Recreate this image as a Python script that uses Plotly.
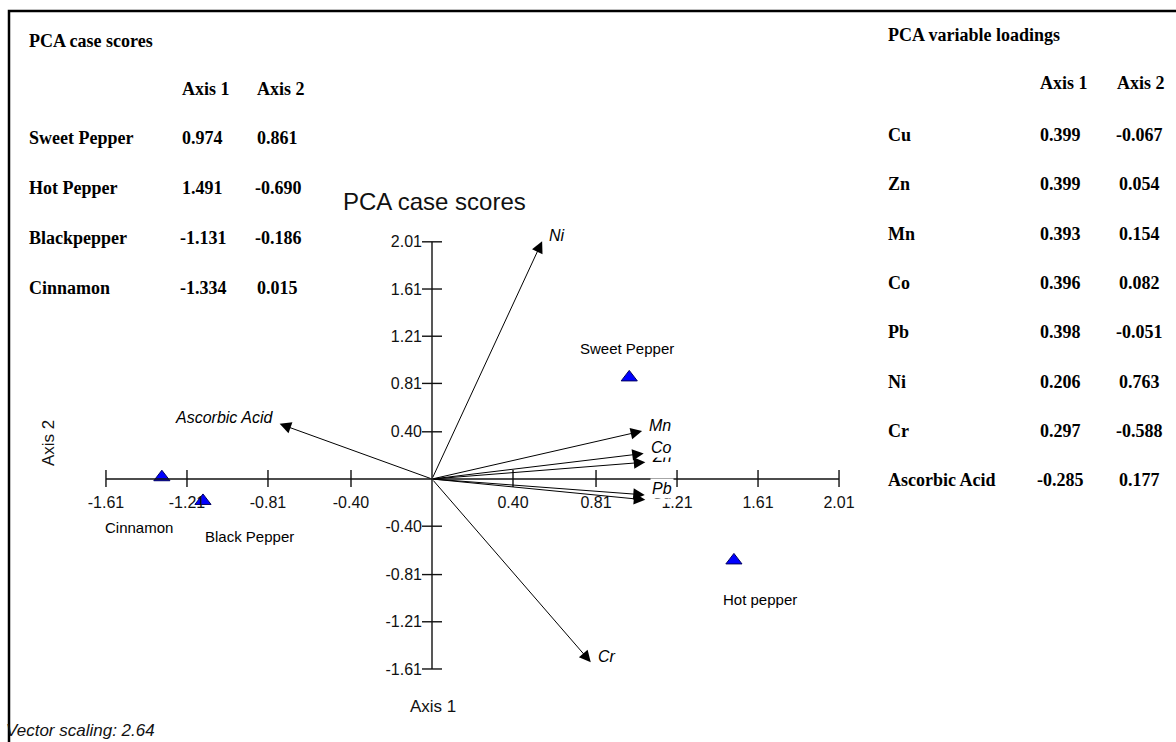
import plotly.graph_objects as go

# ---------------- data ----------------
samples = ["Sweet Pepper", "Hot Pepper", "Blackpepper", "Cinnamon"]
score_axis1 = [0.974, 1.491, -1.131, -1.334]
score_axis2 = [0.861, -0.690, -0.186, 0.015]
plot_labels = ["Sweet Pepper", "Hot pepper", "Black Pepper", "Cinnamon"]

variables = ["Cu", "Zn", "Mn", "Co", "Pb", "Ni", "Cr", "Ascorbic Acid"]
load_axis1 = [0.399, 0.399, 0.393, 0.396, 0.398, 0.206, 0.297, -0.285]
load_axis2 = [-0.067, 0.054, 0.154, 0.082, -0.051, 0.763, -0.588, 0.177]

vector_scaling = 2.64
axis_ticks = [-1.61, -1.21, -0.81, -0.40, 0.40, 0.81, 1.21, 1.61, 2.01]

# ---------------- layout geometry ----------------
W, H = 1176, 742
OX, OY = 432, 479          # pixel position of origin
SX, SY = 202.5, 118.0      # pixels per unit
x_range = [-OX / SX, (W - OX) / SX]
y_range = [(OY - H) / SY, OY / SY]

def px(x):
    return x / W

def py(y):
    return 1 - y / H

SANS = "Liberation Sans, Arial, sans-serif"
SERIF = "Liberation Serif, Times New Roman, serif"

# label offsets (pixels) for sample names
sample_label_shift = [(-2, 29), (26, -39), (47, -36), (-23, -50)]

fig = go.Figure()

# sample points
fig.add_trace(go.Scatter(
    x=score_axis1, y=score_axis2, mode="markers",
    marker=dict(symbol="triangle-up", size=14, color="#0000ff",
                line=dict(color="#000060", width=1)),
    cliponaxis=False, showlegend=False, hoverinfo="skip"))

shapes = []
annotations = []

# border
shapes.append(dict(type="rect", xref="paper", yref="paper",
                   x0=px(9), x1=1.05, y0=-0.05, y1=py(11),
                   line=dict(color="black", width=2.5)))

# axis lines
tmin, tmax = axis_ticks[0], axis_ticks[-1]
shapes.append(dict(type="line", xref="x", yref="y", x0=tmin, x1=tmax, y0=0, y1=0,
                   line=dict(color="#111", width=1.4)))
shapes.append(dict(type="line", xref="x", yref="y", x0=0, x1=0, y0=tmin, y1=tmax,
                   line=dict(color="#111", width=1.4)))
for t in axis_ticks:
    shapes.append(dict(type="line", xref="x", yref="y", x0=t, x1=t,
                       y0=-8 / SY, y1=9 / SY, line=dict(color="#111", width=1.4)))
    shapes.append(dict(type="line", xref="x", yref="y", x0=-10 / SX, x1=10 / SX,
                       y0=t, y1=t, line=dict(color="#111", width=1.4)))

# vector arrows
vx = [a * vector_scaling for a in load_axis1]
vy = [b * vector_scaling for b in load_axis2]
for x, y in zip(vx, vy):
    annotations.append(dict(x=x, y=y, ax=0, ay=0, xref="x", yref="y",
                            axref="x", ayref="y", text="", showarrow=True,
                            arrowhead=2, arrowsize=2.3, arrowwidth=1,
                            arrowcolor="black", standoff=0))

# vector labels
for name, x, y in zip(variables, vx, vy):
    right = x >= 0
    annotations.append(dict(x=x, y=y, xref="x", yref="y", text=name,
                            showarrow=False,
                            xanchor="left" if right else "right",
                            yanchor="middle",
                            xshift=5 if right else -5, yshift=6,
                            bgcolor="white", borderpad=1,
                            font=dict(family=SANS, size=16, color="black",
                                      style="italic")))

# sample labels
for name, x, y, (dx, dy) in zip(plot_labels, score_axis1, score_axis2, sample_label_shift):
    annotations.append(dict(x=x, y=y, xref="x", yref="y", text=name,
                            showarrow=False, xshift=dx, yshift=dy,
                            xanchor="center", yanchor="middle",
                            font=dict(family=SANS, size=15, color="black")))

# title and axis titles
def paper_text(x, y, s, font, xanchor="center", angle=0):
    annotations.append(dict(x=px(x), y=py(y), xref="paper", yref="paper",
                            xanchor=xanchor, yanchor="middle", text=s,
                            textangle=angle, showarrow=False, font=font))

paper_text(434, 201, "PCA case scores", dict(family=SANS, size=24, color="#111"))
paper_text(433, 706, "Axis 1", dict(family=SANS, size=17, color="#111"))
paper_text(48, 443, "Axis 2", dict(family=SANS, size=17, color="#111"), angle=-90)
paper_text(4, 730, f"Vector scaling: {vector_scaling:.2f}",
           dict(family=SANS, size=17, color="#111", style="italic"), xanchor="left")

# tables
tfont = dict(family=SERIF, size=18, color="black", weight="bold")

def table_text(x, y, s):
    paper_text(x, y, s, tfont, xanchor="left")

table_text(27, 41, "PCA case scores")
table_text(180, 89, "Axis 1")
table_text(255, 89, "Axis 2")
for i, (n, a, b) in enumerate(zip(samples, score_axis1, score_axis2)):
    yy = 138 + i * 50
    table_text(27, yy, n)
    table_text(180 if a >= 0 else 178, yy, f"{a:.3f}")
    table_text(255 if b >= 0 else 253, yy, f"{b:.3f}")

table_text(886, 35, "PCA variable loadings")
table_text(1038, 83, "Axis 1")
table_text(1115, 83, "Axis 2")
for i, (n, a, b) in enumerate(zip(variables, load_axis1, load_axis2)):
    yy = 135 + i * 49.3
    table_text(886, yy, n)
    table_text(1038 if a >= 0 else 1035, yy, f"{a:.3f}")
    table_text(1117 if b >= 0 else 1114, yy, f"{b:.3f}")

fig.update_layout(
    width=W, height=H, margin=dict(l=0, r=0, t=0, b=0),
    paper_bgcolor="white", plot_bgcolor="white",
    showlegend=False, shapes=shapes, annotations=annotations,
    xaxis=dict(range=x_range, showgrid=False, zeroline=False, showline=False,
               tickvals=axis_ticks, ticktext=[f"{t:.2f}" for t in axis_ticks],
               ticks="", anchor="free", position=py(OY),
               ticklabelstandoff=12,
               tickfont=dict(family=SANS, size=16, color="#111"), fixedrange=True),
    yaxis=dict(range=y_range, showgrid=False, zeroline=False, showline=False,
               tickvals=axis_ticks, ticktext=[f"{t:.2f}" for t in axis_ticks],
               ticks="", anchor="free", position=px(OX),
               ticklabelstandoff=10,
               tickfont=dict(family=SANS, size=16, color="#111"), fixedrange=True),
)

fig.write_html("out.html", post_script="document.body.style.margin='0';",
               config={"displayModeBar": False})
